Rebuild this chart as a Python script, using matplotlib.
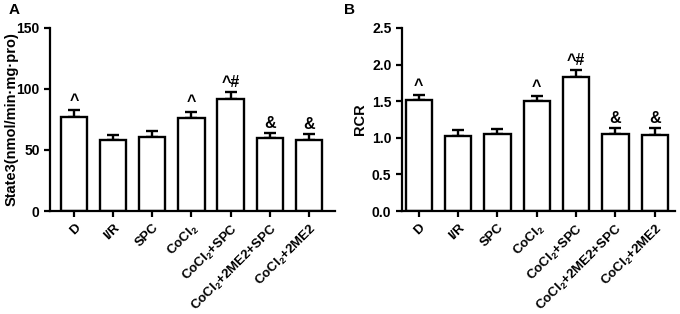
import numpy as np
import matplotlib.pyplot as plt

plt.rcParams['font.family'] = 'Liberation Sans'
plt.rcParams['font.weight'] = 'bold'
plt.rcParams['mathtext.fontset'] = 'custom'
plt.rcParams['mathtext.rm'] = 'Liberation Sans:bold'
plt.rcParams['mathtext.default'] = 'rm'

groups = ['D', 'I/R', 'SPC', 'CoCl$_2$', 'CoCl$_2$+SPC', 'CoCl$_2$+2ME2+SPC', 'CoCl$_2$+2ME2']

state3 = [77.3, 58.1, 60.9, 76.5, 91.9, 59.5, 58.1]
state3_err = [5.5, 4.4, 4.6, 4.9, 5.4, 4.4, 4.9]
state3_marks = ['^', '', '', '^', '^#', '&', '&']

rcr = [1.517, 1.024, 1.047, 1.504, 1.828, 1.056, 1.042]
rcr_err = [0.069, 0.082, 0.068, 0.068, 0.096, 0.073, 0.091]
rcr_marks = ['^', '', '', '^', '^#', '&', '&']

fig = plt.figure(figsize=(6.8, 3.14), dpi=100)
axA = fig.add_axes([0.0735, 0.328, 0.419, 0.583])
axB = fig.add_axes([0.591, 0.328, 0.402, 0.583])


def draw(ax, vals, errs, marks, ylim, yticks, ylabel, xlim, fmt, labx):
    x = np.arange(len(vals))
    ax.bar(x, vals, width=0.67, color='white', edgecolor='black', linewidth=1.7, zorder=2)
    ax.errorbar(x, vals, yerr=[np.zeros(len(errs)), errs], fmt='none', ecolor='black',
                elinewidth=1.7, capsize=4.5, capthick=1.7, zorder=1)
    for xi, v, e, m in zip(x, vals, errs, marks):
        if m:
            ax.text(xi, v + e + ylim[1] * 0.012, m, ha='center', va='bottom', fontsize=11.5, fontweight='bold')
    ax.set_ylim(*ylim)
    ax.set_xlim(*xlim)
    ax.set_yticks(yticks)
    ax.set_yticklabels([fmt.format(t) for t in yticks])
    ax.set_xticks(x)
    ax.set_xticklabels(groups, rotation=45, ha='right', rotation_mode='anchor', fontsize=9.5)
    ax.spines['top'].set_visible(False)
    ax.spines['right'].set_visible(False)
    ax.spines['left'].set_linewidth(1.6)
    ax.spines['bottom'].set_linewidth(1.6)
    ax.tick_params(width=1.6, length=4)
    ax.tick_params(axis='y', labelsize=10)
    ax.set_ylabel(ylabel, fontsize=10.5, fontweight='bold', va='center')
    ax.yaxis.set_label_coords(labx, 0.5)


draw(axA, state3, state3_err, state3_marks, (0, 150), [0, 50, 100, 150],
     'State3(nmol/min·mg·pro)', (-0.62, 6.67), '{:.0f}', -0.135)
draw(axB, rcr, rcr_err, rcr_marks, (0, 2.5), [0, 0.5, 1.0, 1.5, 2.0, 2.5],
     'RCR', (-0.43, 6.52), '{:.1f}', -0.155)

fig.text(0.012, 0.955, 'A', fontsize=11, fontweight='bold')
fig.text(0.506, 0.955, 'B', fontsize=11, fontweight='bold')

fig.savefig('out.png', dpi=100)
